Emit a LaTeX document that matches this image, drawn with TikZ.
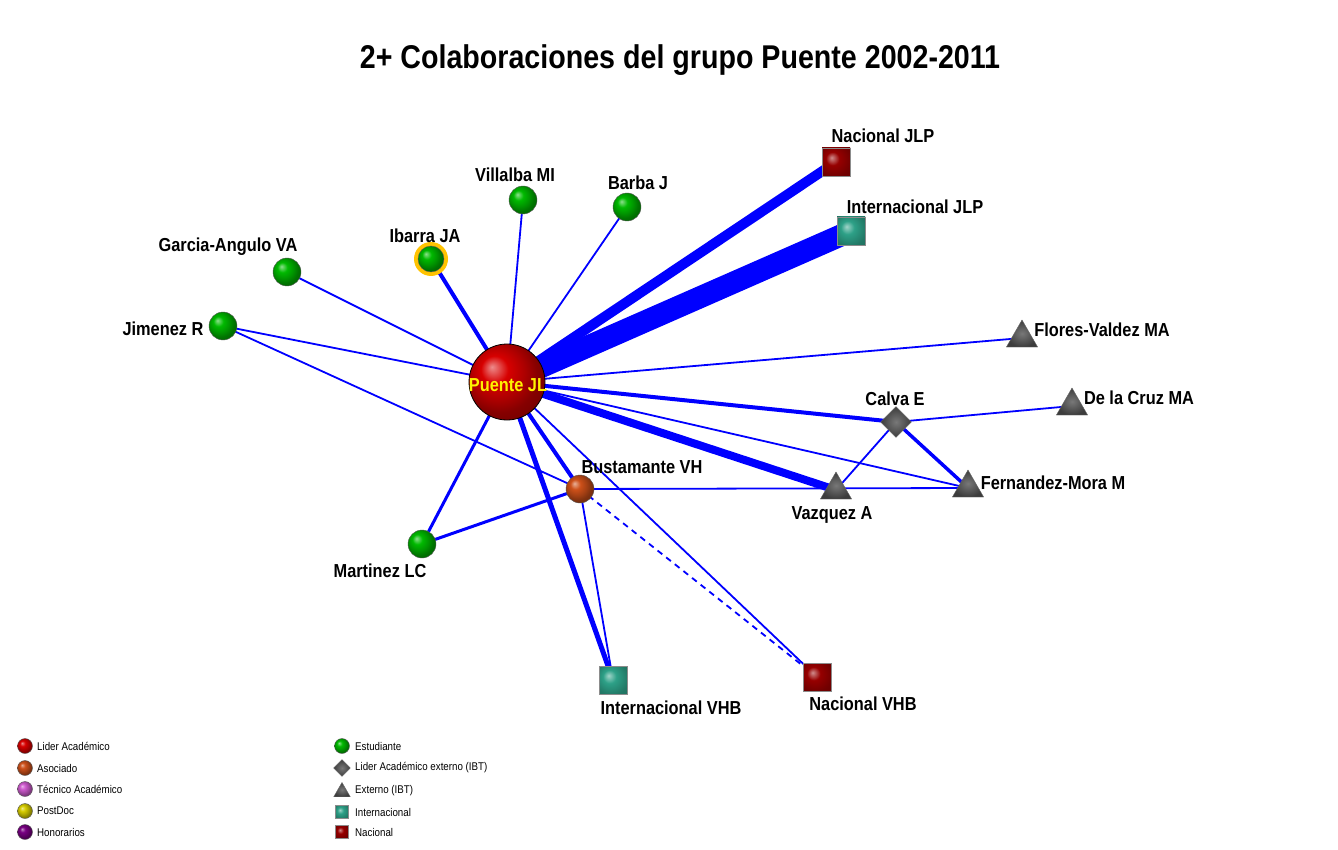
\documentclass[tikz,border=0pt]{standalone}
\usepackage{fontspec}
\setmainfont{Liberation Sans}[FakeStretch=0.87]
\usetikzlibrary{shapes.geometric}
\pgfdeclarelayer{bg}
\pgfsetlayers{bg,main}
\definecolor{lider}{RGB}{215,0,0}
\definecolor{asoc}{RGB}{205,80,25}
\definecolor{tec}{RGB}{205,90,205}
\definecolor{postdoc}{RGB}{215,205,0}
\definecolor{honor}{RGB}{120,0,130}
\definecolor{est}{RGB}{0,185,0}
\definecolor{intlc}{RGB}{45,160,135}
\definecolor{nacc}{RGB}{150,0,0}
\definecolor{extc}{RGB}{75,75,75}
\definecolor{ring}{RGB}{255,195,0}
\makeatletter
\pgfdeclareradialshading[tikz@ball]{sph}{\pgfqpoint{-10bp}{10bp}}{color(0bp)=(tikz@ball!45!white); color(9bp)=(tikz@ball); color(18bp)=(tikz@ball!80!black); color(25bp)=(tikz@ball!62!black); color(50bp)=(tikz@ball!35!black)}
\pgfdeclareradialshading[tikz@ball]{sqsh}{\pgfqpoint{-8bp}{8bp}}{color(0bp)=(tikz@ball!45!white); color(12bp)=(tikz@ball); color(30bp)=(tikz@ball!75!black); color(50bp)=(tikz@ball!65!black)}
\makeatother
\begin{document}
\begin{tikzpicture}[x=1pt,y=-1pt,
  edge/.style={draw={rgb,255:red,0;green,0;blue,255}, line width=1.8pt},
  sball/.style={circle, inner sep=0pt, minimum size=#1, draw=black!65, line width=0.4pt},
  sphc/.style={ball color=#1, shading=sph},
  student/.style={sball=28, sphc=est},
  sq/.style={rectangle, inner sep=0pt, minimum size=28, draw=black!45, line width=0.5pt},
  intl/.style={sq, ball color=intlc, shading=sqsh},
  nac/.style={sq, ball color=nacc, shading=sqsh},
  tri/.style={regular polygon, regular polygon sides=3, inner sep=0pt, minimum size=36, draw=black!60, line width=0.4pt, inner color=extc!75!white, outer color=extc!80!black},
  dia/.style={diamond, aspect=1, inner sep=0pt, minimum width=31, minimum height=31, draw=black!60, line width=0.4pt, inner color=extc!75!white, outer color=extc!80!black},
  lbl/.style={font=\bfseries\fontsize{18.8}{20}\selectfont, text height=13.5pt, text depth=0pt, inner sep=0pt},
  leg/.style={font=\fontsize{11.2}{12}\selectfont, anchor=west, inner sep=0pt},
]
\useasboundingbox (0,0) rectangle (1338,850);

% title
\node[font=\bfseries\fontsize{32.9}{36}\selectfont, text height=24pt, text depth=0pt, inner sep=0pt] (title) at (680,57) {2+ Colaboraciones del grupo Puente 2002-2011};

% nodes
\node[sball=76, sphc=lider, draw=black, line width=0.8pt] (P) at (507,382) {};
\node[lbl, text=yellow] (Plbl) at (508,385) {Puente JL};
\node[nac] (NJ) at (836,162) {};
\node[intl] (IJ) at (851,231) {};
\node[student] (V) at (523,200) {};
\node[student] (B) at (627,207) {};
\node[circle, fill=ring, inner sep=0pt, minimum size=34] (Iring) at (431,259) {};
\node[sball=26, sphc=est] (I) at (431,259) {};
\node[student] (G) at (287,272) {};
\node[student] (Ji) at (223,326) {};
\node[tri] (FV) at (1022,338) {};
\node[tri] (DC) at (1072,406) {};
\node[dia] (C) at (896,422) {};
\node[tri] (FM) at (968,488) {};
\node[tri] (Va) at (836,490) {};
\node[sball=28, sphc=asoc] (Bu) at (580,489) {};
\node[student] (M) at (422,544) {};
\node[intl] (IV) at (613,680) {};
\node[nac] (NV) at (817,677) {};

% labels
\node[lbl] (lNJ) at (883,136) {Nacional JLP};
\node[lbl] (lIJ) at (915,207) {Internacional JLP};
\node[lbl] (lV) at (515,175) {Villalba MI};
\node[lbl] (lB) at (638,183) {Barba J};
\node[lbl] (lI) at (425,236) {Ibarra JA};
\node[lbl] (lG) at (228,245) {Garcia-Angulo VA};
\node[lbl] (lJi) at (163,329) {Jimenez R};
\node[lbl] (lFV) at (1102,330) {Flores-Valdez MA};
\node[lbl] (lDC) at (1139,398) {De la Cruz MA};
\node[lbl] (lC) at (895,399) {Calva E};
\node[lbl] (lFM) at (1053,483) {Fernandez-Mora M};
\node[lbl] (lVa) at (832,513) {Vazquez A};
\node[lbl] (lBu) at (642,467) {Bustamante VH};
\node[lbl] (lM) at (380,571) {Martinez LC};
\node[lbl] (lIV) at (671,708) {Internacional VHB};
\node[lbl] (lNV) at (863,704) {Nacional VHB};

% edges
\begin{pgfonlayer}{bg}
\draw[edge, line width=22pt] (P.center) -- (IJ.center);
\draw[edge, line width=10pt] (P.center) -- (NJ.center);
\draw[edge] (P.center) -- (V.center);
\draw[edge] (P.center) -- (B.center);
\draw[edge, line width=4pt] (P.center) -- (I.center);
\draw[edge] (P.center) -- (G.center);
\draw[edge] (P.center) -- (Ji.center);
\draw[edge] (Ji.center) -- (Bu.center);
\draw[edge] (P.center) -- (FV.center);
\draw[edge, line width=4pt] (P.center) -- (C.center);
\draw[edge, line width=8pt] (P.center) -- (Va.center);
\draw[edge] (P.center) -- (FM.center);
\draw[edge, line width=4pt] (P.center) -- (Bu.center);
\draw[edge, line width=3pt] (P.center) -- (M.center);
\draw[edge, line width=5pt] (P.center) -- (IV.center);
\draw[edge] (P.center) -- (NV.center);
\draw[edge, dashed, dash pattern=on 6pt off 5pt] (Bu.center) -- (NV.center);
\draw[edge] (Bu.center) -- (IV.center);
\draw[edge, line width=3pt] (Bu.center) -- (M.center);
\draw[edge] (Bu.center) -- (FM.center);
\draw[edge] (C.center) -- (Va.center);
\draw[edge, line width=3.5pt] (C.center) -- (FM.center);
\draw[edge] (C.center) -- (DC.center);
\end{pgfonlayer}

% legend left
\node[sball=15, sphc=lider] (L1) at (25,746) {};
\node[leg] (L1t) at (37,746) {Lider Académico};
\node[sball=15, sphc=asoc] (L2) at (25,768) {};
\node[leg] (L2t) at (37,768) {Asociado};
\node[sball=15, sphc=tec] (L3) at (25,789) {};
\node[leg] (L3t) at (37,789) {Técnico Académico};
\node[sball=15, sphc=postdoc] (L4) at (25,811) {};
\node[leg] (L4t) at (37,811) {PostDoc};
\node[sball=15, sphc=honor] (L5) at (25,832) {};
\node[leg] (L5t) at (37,832) {Honorarios};
% legend right
\node[sball=15, sphc=est] (R1) at (342,746) {};
\node[leg] (R1t) at (355,746) {Estudiante};
\node[dia, minimum width=17, minimum height=17] (R2) at (342,768) {};
\node[leg] (R2t) at (355,768) {Lider Académico externo (IBT)};
\node[tri, minimum size=19] (R3) at (342,792) {};
\node[leg] (R3t) at (355,791) {Externo (IBT)};
\node[intl, minimum size=13] (R4) at (342,812) {};
\node[leg] (R4t) at (355,812) {Internacional};
\node[nac, minimum size=13] (R5) at (342,832) {};
\node[leg] (R5t) at (355,832) {Nacional};
\end{tikzpicture}
\end{document}
